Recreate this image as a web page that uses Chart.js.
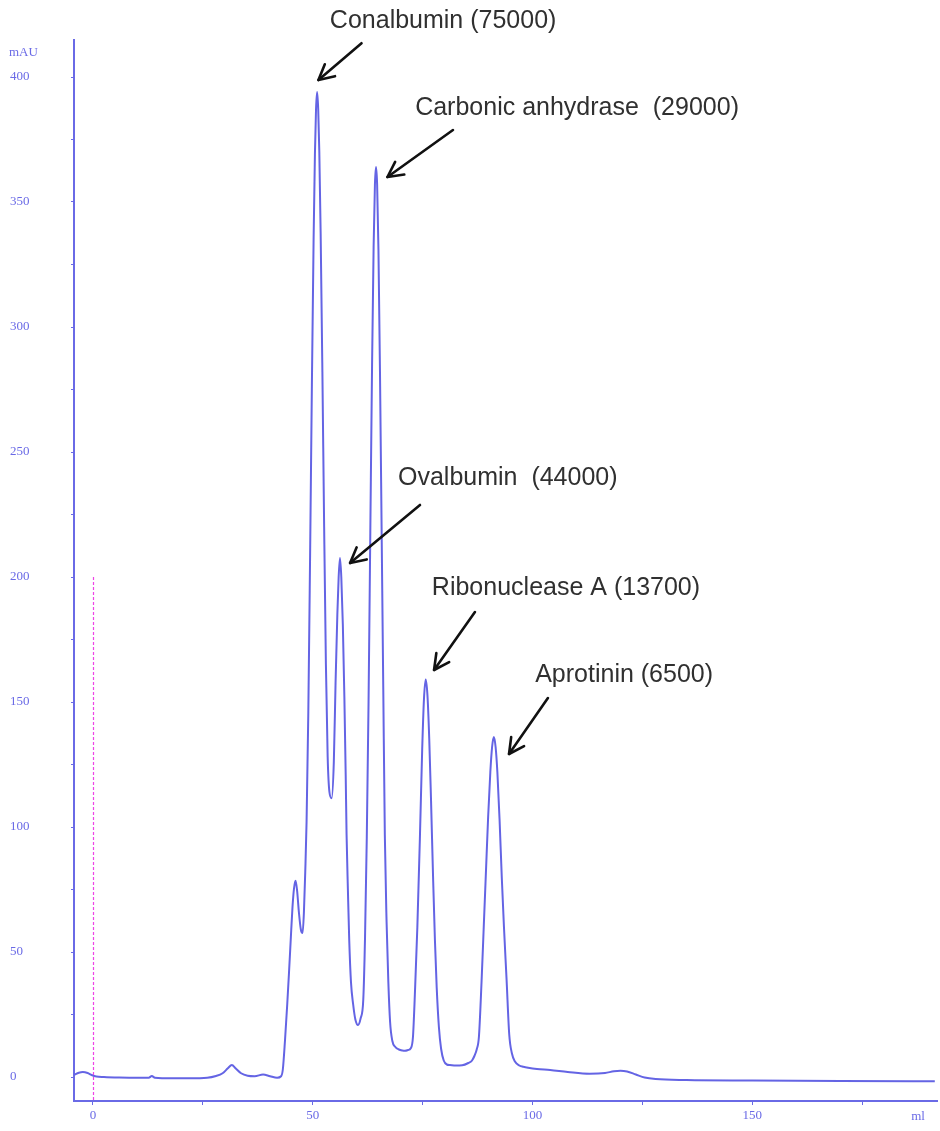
<!DOCTYPE html>
<html>
<head>
<meta charset="utf-8">
<script src="https://cdn.jsdelivr.net/npm/chart.js@4.4.1/dist/chart.umd.min.js"></script>
<style>
  html, body { margin: 0; padding: 0; background: #ffffff; }
  #wrap { width: 940px; height: 1131px; position: relative; }
</style>
</head>
<body>
<div id="wrap"><canvas id="chrom"></canvas></div>
<script>
// Elution volume (ml) of each sample point of the UV trace
const volumeMl = [
  -4.3, -3.2, -2.3, -1.2, -0.3, 0.8, 2.5, 6, 10, 12.7, 13.4, 14.1, 18, 22, 26, 28, 29.5, 30.7, 31.6, 32.5,
  33.7, 35.2, 36.8, 38.7, 40.3, 41.9, 42.8, 43.2, 43.7, 44.2, 44.6, 45.0, 45.4, 45.75, 46.1, 46.45, 46.85, 47.3, 47.7, 48.0,
  48.3, 48.6, 49.0, 49.4, 49.8, 50.2, 50.5, 50.75, 51.0, 51.25, 51.5, 51.8, 52.2, 52.6, 53.0, 53.4, 53.8, 54.3, 54.8, 55.2,
  55.6, 55.9, 56.2, 56.5, 56.85, 57.2, 57.5, 57.7, 58.0, 58.3, 58.7, 59.2, 59.7, 60.3, 60.9, 61.5, 61.9, 62.3, 62.7, 63.1,
  63.5, 63.85, 64.15, 64.4, 64.65, 64.95, 65.3, 65.7, 66.05, 66.4, 66.8, 67.2, 67.6, 68.1, 68.8, 69.6, 70.4, 71.0, 71.7, 72.3,
  72.8, 73.3, 73.8, 74.4, 74.9, 75.3, 75.7, 76.1, 76.5, 76.9, 77.4, 77.8, 78.2, 78.7, 79.2, 79.8, 80.5, 81.2, 82.5, 84.0,
  85.4, 86.2, 86.8, 87.3, 87.8, 88.4, 88.9, 89.4, 89.9, 90.4, 90.8, 91.2, 91.6, 92.0, 92.5, 93.0, 93.5, 94.1, 94.7, 95.3,
  96.0, 97.0, 97.9, 99.0, 101, 104, 108, 113, 116.5, 118.5, 120, 121.5, 123.5, 125.5, 128, 135, 150, 170, 191.5
];

// UV absorbance (mAU) at each volume above
const absorbanceMAU = [
  0.8, 1.7, 2.0, 1.6, 0.8, 0.2, 0.0, -0.2, -0.3, -0.3, 0.4, -0.3, -0.5, -0.5, -0.3, 0.4, 1.5, 3.5, 4.8, 3.4,
  1.5, 0.5, 0.3, 1.0, 0.3, -0.3, 0.3, 3, 14.8, 29, 41.6, 55, 68, 75.5, 78.5, 74.5, 66, 59, 57.6, 66,
  82, 102, 146, 208, 275, 335, 369, 387, 394, 387, 370, 338, 282, 220, 165, 128, 114, 111.5, 126, 158,
  185, 200, 207.6, 200, 181, 152, 121, 97, 75, 55, 38, 29, 23, 20.8, 23.5, 31, 56, 96, 150, 218,
  285, 332, 357, 364, 357, 331, 282, 214, 155, 97, 62, 38, 22, 14.5, 12, 11, 10.6, 10.5, 10.8, 11.5,
  16, 36, 60, 97, 131, 151, 159, 152.6, 135.5, 111.4, 78.3, 54.6, 35.8, 20, 11.3, 6.6, 5.0, 4.8, 4.6, 4.7,
  5.6, 6.5, 8.5, 11, 16, 38, 60, 82, 104, 122, 132, 136, 132, 122, 103, 80, 60, 38.8, 17, 9.5,
  6.2, 4.6, 4.1, 3.7, 3.2, 2.8, 2.0, 1.3, 1.6, 2.3, 2.5, 2.2, 1.0, -0.2, -0.8, -1.2, -1.4, -1.6, -1.7
];

// Axis ticks: marks every 25, numbers every 50
const volumeTicks = [0, 25, 50, 75, 100, 125, 150, 175];
const volumeLabels = ['0', '', '50', '', '100', '', '150', ''];
const absorbanceTicks = [0, 25, 50, 75, 100, 125, 150, 175, 200, 225, 250, 275, 300, 325, 350, 375, 400];
const absorbanceLabels = ['0', '', '50', '', '100', '', '150', '', '200', '', '250', '', '300', '', '350', '', '400'];

// Protein standards: name (molecular weight), text anchor and arrow (ml, mAU)
const peakNames = ['Conalbumin (75000)', 'Carbonic anhydrase  (29000)', 'Ovalbumin  (44000)', 'Ribonuclease A (13700)', 'Aprotinin (6500)'];
const labelAnchorMl = [53.9, 73.3, 69.4, 77.1, 100.6];
const labelAnchorMAU = [422.4, 387.6, 239.6, 195.6, 160.8];
const arrowFromMl = [61.1, 81.9, 74.4, 86.9, 103.5];
const arrowFromMAU = [413.5, 378.8, 228.8, 186.0, 151.6];
const arrowToMl = [51.3, 67.0, 58.5, 77.6, 94.65];
const arrowToMAU = [398.8, 360.0, 205.6, 162.8, 129.2];

// Injection marker
const injectionMl = 0;
const injectionMarkerTopMAU = 200;

const axisBlue = '#6a6ae6';
const traceBlue = '#6464e4';
const tickFont = { family: '"Liberation Serif", "Times New Roman", serif', size: 13 };

const tracePoints = volumeMl.map((v, i) => ({ x: v, y: absorbanceMAU[i] }));

const overlay = {
  id: 'overlay',
  afterDatasetsDraw(chart) {
    const ctx = chart.ctx;
    const xs = chart.scales.x, ys = chart.scales.y;
    const area = chart.chartArea;

    // dashed injection marker
    ctx.save();
    ctx.strokeStyle = '#ee44e6';
    ctx.lineWidth = 1.2;
    ctx.setLineDash([3, 2]);
    const px = Math.round(xs.getPixelForValue(injectionMl)) + 0.5;
    ctx.beginPath();
    ctx.moveTo(px, ys.getPixelForValue(injectionMarkerTopMAU));
    ctx.lineTo(px, area.bottom);
    ctx.stroke();
    ctx.restore();

    // axis unit captions
    ctx.save();
    ctx.fillStyle = axisBlue;
    ctx.font = '13px "Liberation Serif", "Times New Roman", serif';
    ctx.textBaseline = 'middle';
    ctx.textAlign = 'left';
    ctx.fillText('mAU', 9, 53);
    ctx.textAlign = 'center';
    ctx.fillText('ml', 918, 1117);
    ctx.restore();

    // peak labels and arrows
    ctx.save();
    ctx.fillStyle = '#303030';
    ctx.font = '25px "Liberation Sans", Arial, sans-serif';
    ctx.textBaseline = 'middle';
    ctx.textAlign = 'left';
    peakNames.forEach((name, i) => {
      ctx.fillText(name, xs.getPixelForValue(labelAnchorMl[i]), ys.getPixelForValue(labelAnchorMAU[i]));
      const x0 = xs.getPixelForValue(arrowFromMl[i]), y0 = ys.getPixelForValue(arrowFromMAU[i]);
      const x1 = xs.getPixelForValue(arrowToMl[i]), y1 = ys.getPixelForValue(arrowToMAU[i]);
      const ang = Math.atan2(y1 - y0, x1 - x0);
      const head = 17, spread = 0.48;
      ctx.strokeStyle = '#111111';
      ctx.lineWidth = 2.6;
      ctx.lineCap = 'round';
      ctx.lineJoin = 'round';
      ctx.beginPath();
      ctx.moveTo(x0, y0);
      ctx.lineTo(x1, y1);
      ctx.stroke();
      ctx.beginPath();
      ctx.moveTo(x1 - head * Math.cos(ang - spread), y1 - head * Math.sin(ang - spread));
      ctx.lineTo(x1, y1);
      ctx.lineTo(x1 - head * Math.cos(ang + spread), y1 - head * Math.sin(ang + spread));
      ctx.stroke();
    });
    ctx.restore();
  }
};

new Chart(document.getElementById('chrom'), {
  type: 'line',
  data: {
    datasets: [{
      data: tracePoints,
      borderColor: traceBlue,
      borderWidth: 2,
      pointRadius: 0,
      fill: false,
      cubicInterpolationMode: 'monotone'
    }]
  },
  options: {
    responsive: true,
    maintainAspectRatio: false,
    animation: false,
    events: [],
    layout: { padding: { left: 10, top: 40, right: 3, bottom: 0 } },
    plugins: { legend: { display: false }, tooltip: { enabled: false } },
    scales: {
      x: {
        type: 'linear',
        min: -4.3,
        max: 192,
        afterFit(s) { s.height = 30; },
        afterBuildTicks(s) { s.ticks = volumeTicks.map(v => ({ value: v })); },
        grid: { drawOnChartArea: false, drawTicks: true, tickLength: 4, color: axisBlue, lineWidth: 1 },
        border: { display: true, color: axisBlue, width: 2 },
        ticks: {
          color: axisBlue, font: tickFont, padding: 3, maxRotation: 0, autoSkip: false,
          callback(v) { const k = volumeTicks.indexOf(v); return k >= 0 ? volumeLabels[k] : ''; }
        }
      },
      y: {
        type: 'linear',
        min: -9.6,
        max: 414.8,
        afterFit(s) { s.width = 64; },
        afterBuildTicks(s) { s.ticks = absorbanceTicks.map(v => ({ value: v })); },
        grid: { drawOnChartArea: false, drawTicks: true, tickLength: 3, color: axisBlue, lineWidth: 1 },
        border: { display: true, color: axisBlue, width: 2 },
        ticks: {
          color: axisBlue, font: tickFont, padding: 4, crossAlign: 'far', autoSkip: false,
          callback(v) { const k = absorbanceTicks.indexOf(v); return k >= 0 ? absorbanceLabels[k] : ''; }
        }
      }
    }
  },
  plugins: [overlay]
});
</script>
</body>
</html>
